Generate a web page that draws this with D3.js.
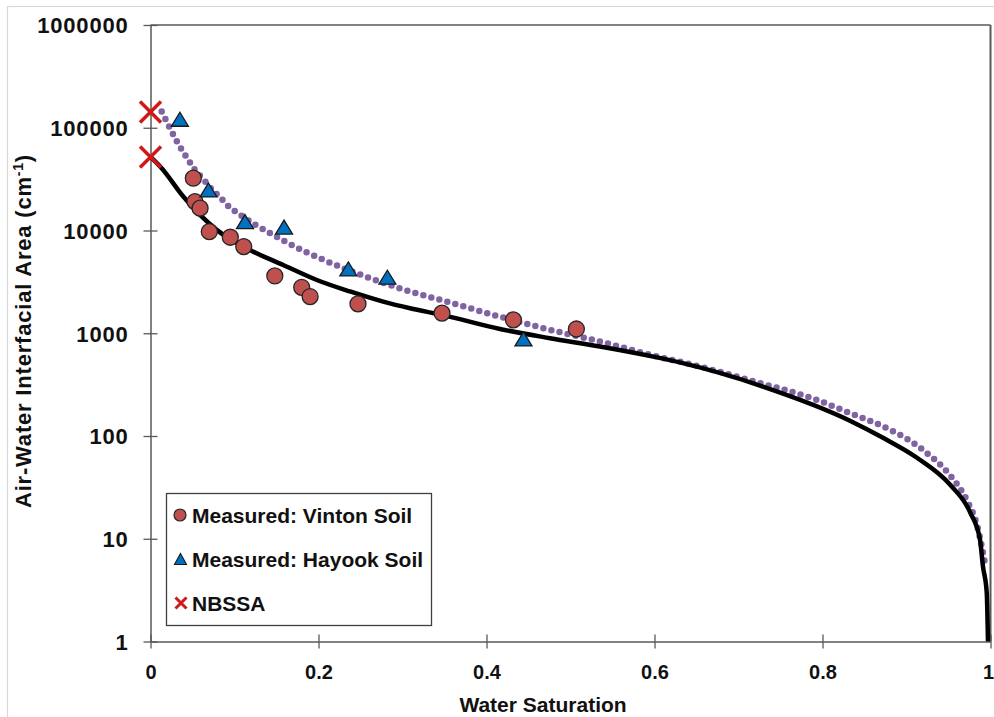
<!DOCTYPE html>
<html>
<head>
<meta charset="utf-8">
<script src="https://cdn.jsdelivr.net/npm/d3@7"></script>
<style>
  html, body { margin: 0; padding: 0; background: #fff; }
  svg { display: block; font-family: "Liberation Sans", Arial, sans-serif; }
</style>
</head>
<body>
<svg id="chart" width="994" height="717"></svg>
<script>
// Measured air-water interfacial area, Vinton soil
const vintonSw   = [0.051, 0.053, 0.059, 0.070, 0.095, 0.111, 0.148, 0.180, 0.190, 0.247, 0.347, 0.432, 0.507];
const vintonArea = [32300, 19100, 16500, 9750, 8600, 6970, 3610, 2800, 2275, 1930, 1570, 1350, 1100];

// Measured air-water interfacial area, Hayook soil
const hayookSw   = [0.035, 0.069, 0.1125, 0.159, 0.2355, 0.282, 0.444];
const hayookArea = [121000, 24800, 12200, 10800, 4230, 3510, 880];

// NBSSA (normalized BET specific solid surface area) at zero saturation
const nbssaSw   = [0, 0];
const nbssaArea = [142000, 52000];

// Solid black model curve
const modelSw   = [0, 0.0133, 0.039, 0.0788, 0.1185, 0.158, 0.198, 0.2375, 0.277, 0.309, 0.347, 0.416,
                   0.4756, 0.535, 0.6, 0.63, 0.729, 0.8327, 0.872, 0.9125, 0.952, 0.976, 0.9875, 0.991, 0.9955, 0.997];
const modelArea = [52000, 40400, 21400, 10140, 6470, 4620, 3300, 2550, 2030, 1750, 1510, 1100,
                   895, 743, 589, 520, 303, 141, 96, 61.4, 33.5, 17.9, 9.8, 5.4, 3.0, 1];

// Dotted purple model curve
const dottedSw   = [0.0133, 0.0232, 0.0331, 0.0438, 0.053, 0.0637, 0.0729, 0.0827, 0.0926, 0.1033, 0.123, 0.144,
                    0.164, 0.184, 0.204, 0.273, 0.303, 0.3565, 0.416, 0.4756, 0.535, 0.595, 0.654, 0.714,
                    0.793, 0.8327, 0.872, 0.916, 0.954, 0.9637, 0.9736, 0.9836, 0.9935];
const dottedArea = [143600, 98900, 69500, 50500, 38800, 31000, 25200, 21100, 17300, 14900, 11600, 9270,
                    7520, 6240, 5260, 3180, 2640, 1990, 1450, 1080, 830, 617, 474, 347,
                    225, 167, 124, 77, 39.5, 31, 22.2, 13.9, 5.7];

// Axis ticks and labels
const xTicks = [0, 0.2, 0.4, 0.6, 0.8, 1];
const yTicks = [1, 10, 100, 1000, 10000, 100000, 1000000];
const legendLabels = ["Measured: Vinton Soil", "Measured: Hayook Soil", "NBSSA"];
const xTitle = "Water Saturation";
const yTitle = "Air-Water Interfacial Area (cm";
const yTitleSup = "-1";

const svg = d3.select("#chart");
const plotL = 150.5, plotR = 990.5, plotT = 25, plotB = 641.5;

const x = d3.scaleLinear().domain([0, 1]).range([plotL, plotR]);
const y = d3.scaleLog().domain([1, 1e6]).range([plotB, plotT]);

const axisColor = "#595959";
const textColor = "#111";

// Outer chart frame
svg.append("rect")
  .attr("x", 7.5).attr("y", 6.5).attr("width", 1000).attr("height", 730)
  .attr("fill", "none").attr("stroke", "#d9d9d9").attr("stroke-width", 1.2);

// Plot frame: top and right edges
svg.append("line").attr("x1", plotL).attr("x2", plotR).attr("y1", plotT).attr("y2", plotT)
  .attr("stroke", axisColor).attr("stroke-width", 1.5);
svg.append("line").attr("x1", plotR).attr("x2", plotR).attr("y1", plotT).attr("y2", plotB)
  .attr("stroke", axisColor).attr("stroke-width", 2);

// Y axis (log)
const yAxis = svg.append("g")
  .attr("transform", `translate(${plotL},0)`)
  .call(d3.axisLeft(y).tickValues(yTicks).tickFormat(d3.format("d")).tickSizeInner(7).tickSizeOuter(0));
yAxis.select(".domain").attr("stroke", axisColor).attr("stroke-width", 1.5);
yAxis.selectAll(".tick line").attr("x1", 7).attr("stroke", axisColor).attr("stroke-width", 1.3);
yAxis.selectAll(".tick text")
  .attr("x", -22).attr("dy", "0.36em")
  .attr("font-size", 22).attr("font-weight", "bold").attr("letter-spacing", 0.8)
  .attr("fill", textColor).attr("font-family", "Liberation Sans, Arial, sans-serif");

// X axis
const xAxis = svg.append("g")
  .attr("transform", `translate(0,${plotB})`)
  .call(d3.axisBottom(x).tickValues(xTicks).tickFormat(d3.format("~g")).tickSizeInner(7).tickSizeOuter(0));
xAxis.select(".domain").attr("stroke", axisColor).attr("stroke-width", 1.5);
xAxis.selectAll(".tick line").attr("y1", -7).attr("stroke", axisColor).attr("stroke-width", 1.3);
xAxis.selectAll(".tick text")
  .attr("y", 37.5).attr("dy", 0)
  .attr("font-size", 20).attr("font-weight", "bold")
  .attr("fill", textColor).attr("font-family", "Liberation Sans, Arial, sans-serif");
// keep the last label inside the canvas edge
xAxis.selectAll(".tick text").filter(d => d === 1)
  .attr("text-anchor", "end").attr("x", 3);

// Axis titles
svg.append("text")
  .attr("x", 543).attr("y", 712)
  .attr("text-anchor", "middle")
  .attr("font-size", 21).attr("font-weight", "bold").attr("fill", textColor)
  .text(xTitle);

const yt = svg.append("text")
  .attr("transform", "translate(31,331) rotate(-90)")
  .attr("text-anchor", "middle")
  .attr("font-size", 22).attr("font-weight", "bold").attr("fill", textColor);
yt.append("tspan").text(yTitle);
yt.append("tspan").attr("font-size", 14).attr("dy", -8).text(yTitleSup);
yt.append("tspan").attr("dy", 8).text(")");
// stretch the title to span the plot's vertical extent
const natural = yt.node().getComputedTextLength();
const chars = (yTitle + yTitleSup + ")").length;
yt.attr("letter-spacing", Math.max(0, (354 - natural) / chars));

// Model curves
const modelPts = modelSw.map((s, i) => [s, modelArea[i]]);
const dottedPts = dottedSw.map((s, i) => [s, dottedArea[i]]);
const line = d3.line().x(d => x(d[0])).y(d => y(d[1])).curve(d3.curveMonotoneX);

svg.append("path")
  .attr("d", line(dottedPts))
  .attr("fill", "none").attr("stroke", "#8064A2")
  .attr("stroke-width", 6.5).attr("stroke-linecap", "round")
  .attr("stroke-dasharray", "0 8.3");

svg.append("path")
  .attr("d", line(modelPts))
  .attr("fill", "none").attr("stroke", "#000")
  .attr("stroke-width", 4.5).attr("stroke-linejoin", "round");

// Marker helpers
const triPath = (w, h) => `M0,${-h / 2}L${w / 2},${h / 2}L${-w / 2},${h / 2}Z`;
const crossPath = s => `M${-s},${-s}L${s},${s}M${-s},${s}L${s},${-s}`;

// Vinton circles
svg.append("g").selectAll("circle")
  .data(vintonSw.map((s, i) => [s, vintonArea[i]]))
  .join("circle")
  .attr("cx", d => x(d[0])).attr("cy", d => y(d[1])).attr("r", 8)
  .attr("fill", "#C0504D").attr("stroke", "#262626").attr("stroke-width", 1.3);

// Hayook triangles
svg.append("g").selectAll("path")
  .data(hayookSw.map((s, i) => [s, hayookArea[i]]))
  .join("path")
  .attr("transform", d => `translate(${x(d[0])},${y(d[1])})`)
  .attr("d", triPath(17, 14))
  .attr("fill", "#0070C0").attr("stroke", "#1a1a1a").attr("stroke-width", 1.3)
  .attr("stroke-linejoin", "miter");

// NBSSA crosses
svg.append("g").selectAll("path")
  .data(nbssaSw.map((s, i) => [s, nbssaArea[i]]))
  .join("path")
  .attr("transform", d => `translate(${x(d[0])},${y(d[1])})`)
  .attr("d", crossPath(10.5))
  .attr("fill", "none").attr("stroke", "#D01818").attr("stroke-width", 3.5);

// Legend
const lg = svg.append("g");
lg.append("rect")
  .attr("x", 166.5).attr("y", 493.5).attr("width", 265).attr("height", 132)
  .attr("fill", "#fff").attr("stroke", "#404040").attr("stroke-width", 1.3);
const rowY = [515, 559, 603];
lg.append("circle").attr("cx", 180).attr("cy", rowY[0]).attr("r", 6)
  .attr("fill", "#C0504D").attr("stroke", "#262626").attr("stroke-width", 1.2);
lg.append("path").attr("transform", `translate(180.5,${rowY[1]})`).attr("d", triPath(12, 11))
  .attr("fill", "#0070C0").attr("stroke", "#1a1a1a").attr("stroke-width", 1.1);
lg.append("path").attr("transform", `translate(181,${rowY[2]})`).attr("d", crossPath(5.5))
  .attr("fill", "none").attr("stroke", "#D01818").attr("stroke-width", 3);
lg.selectAll("text.lbl")
  .data(legendLabels)
  .join("text").attr("class", "lbl")
  .attr("x", 192).attr("y", (d, i) => rowY[i] + 8)
  .attr("font-size", 21).attr("font-weight", "bold").attr("fill", textColor)
  .text(d => d);
</script>
</body>
</html>
